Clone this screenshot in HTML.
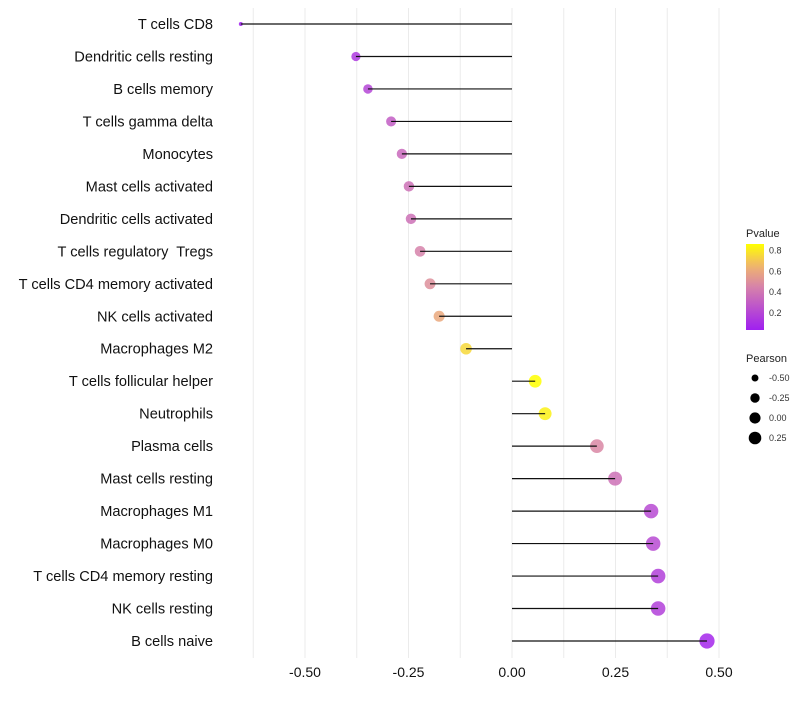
<!DOCTYPE html>
<html><head><meta charset="utf-8"><style>
body{margin:0;background:#fff;font-family:"Liberation Sans",sans-serif}
svg text{font-family:"Liberation Sans",sans-serif;white-space:pre}
</style></head><body>
<svg id="c" width="800" height="700"></svg>
<script>
const categories=["T cells CD8","Dendritic cells resting","B cells memory","T cells gamma delta","Monocytes","Mast cells activated","Dendritic cells activated","T cells regulatory  Tregs","T cells CD4 memory activated","NK cells activated","Macrophages M2","T cells follicular helper","Neutrophils","Plasma cells","Mast cells resting","Macrophages M1","Macrophages M0","T cells CD4 memory resting","NK cells resting","B cells naive"];
const pearson=[-0.655,-0.377,-0.348,-0.292,-0.266,-0.249,-0.244,-0.222,-0.198,-0.176,-0.111,0.056,0.080,0.205,0.249,0.336,0.341,0.353,0.353,0.471];
const pvalue=[0.02,0.15,0.2,0.3,0.35,0.38,0.38,0.45,0.5,0.6,0.75,0.86,0.82,0.47,0.38,0.22,0.22,0.18,0.18,0.08];
const xTicks=[-0.5,-0.25,0,0.25,0.5];
const xTickLabels=["-0.50","-0.25","0.00","0.25","0.50"];
const colorTicks=[0.2,0.4,0.6,0.8];
const sizeTicks=[-0.5,-0.25,0,0.25];

const NS="http://www.w3.org/2000/svg",svg=document.getElementById('c');
function mk(t,a,p){const e=document.createElementNS(NS,t);for(const k in a)e.setAttribute(k,a[k]);(p||svg).appendChild(e);return e;}
const x=v=>512+v*414;
const y=i=>24+i*(617/19);
const rS=v=>1.6+6*Math.sqrt(Math.max(0,(v+0.66)/1.13));
const stops=[[0.05,[160,32,240]],[0.45,[214,130,170]],[0.65,[240,180,110]],[0.86,[255,255,0]]];
function col(p){if(p<=stops[0][0])return 'rgb('+stops[0][1]+')';for(let i=1;i<stops.length;i++){if(p<=stops[i][0]){const a=stops[i-1],b=stops[i],t=(p-a[0])/(b[0]-a[0]);return 'rgb('+a[1].map((c,j)=>Math.round(c+(b[1][j]-c)*t)).join(',')+')';}}return 'rgb('+stops[stops.length-1][1]+')';}
const cy=pv=>330-(pv-0.04)/0.82*86;

for(let g=-0.625;g<=0.51;g+=0.125){const l=mk('line',{x1:x(g),x2:x(g),y1:8,y2:658,stroke:'#ebebeb','stroke-width':1});

}
xTicks.forEach((t,i)=>{const e=mk('text',{x:x(t),y:677,'font-size':14,'text-anchor':'middle',fill:'#111'});e.textContent=xTickLabels[i];

});
categories.forEach((c,i)=>{
const t=mk('text',{x:213,y:y(i)+5,'font-size':14.6,'text-anchor':'end',fill:'#111','xml:space':'preserve'});t.textContent=c;


const d=mk('circle',{cx:x(pearson[i]),cy:y(i),r:rS(pearson[i]),fill:col(pvalue[i]),'fill-opacity':0.85});


const l=mk('line',{x1:x(0),x2:x(pearson[i]),y1:y(i),y2:y(i),stroke:'#111','stroke-width':1.2});


});
const defs=mk('defs',{});const lg=mk('linearGradient',{id:'g',x1:0,y1:1,x2:0,y2:0},defs);
for(let k=0;k<=10;k++){const p=0.04+k*0.082;mk('stop',{offset:k/10,'stop-color':col(p)},lg);}
let e=mk('text',{x:746,y:237,'font-size':11,fill:'#222'});e.textContent='Pvalue';

e=mk('rect',{x:746,y:244,width:18,height:86,fill:'url(#g)'});

colorTicks.forEach(p=>{const t=mk('text',{x:769,y:cy(p)+3,'font-size':9,fill:'#333'});t.textContent=p.toFixed(1);
});
e=mk('text',{x:746,y:362,'font-size':11,fill:'#222'});e.textContent='Pearson';

sizeTicks.forEach((s,i)=>{const yy=378+i*20;const c=mk('circle',{cx:755,cy:yy,r:rS(s)*0.9,fill:'#000'});

const t=mk('text',{x:769,y:yy+3,'font-size':9,fill:'#333'});t.textContent=s.toFixed(2);
});
</script></body></html>
